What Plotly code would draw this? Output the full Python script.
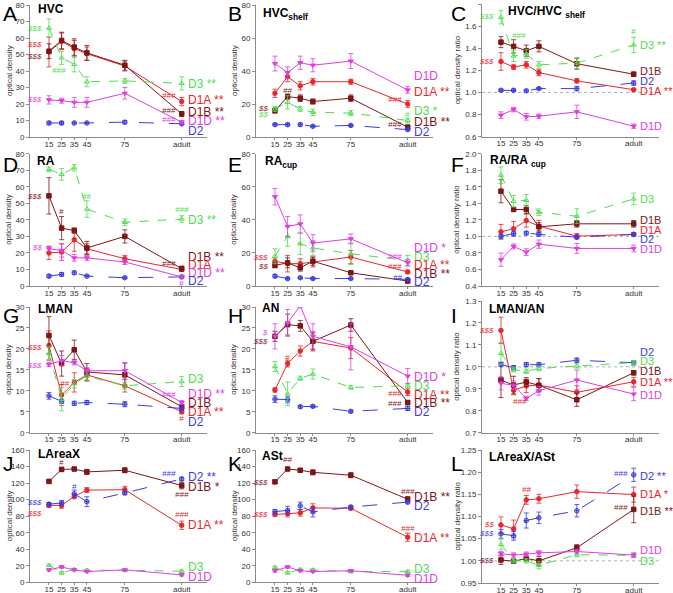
import plotly.graph_objects as go

W, H = 673, 593

x_ages = [15, 25, 35, 45, 75, 120]
x_ticklabels = ["15", "25", "35", "45", "75", "adult"]
series_names = ["D1A", "D1B", "D2", "D3", "D1D"]

# ---- Panel A: HVC
A_D1A = [51.5, 58, 53.5, 50.5, 43, 21.5]; A_D1A_e = [9, 5, 5, 4, 3, 2.5]
A_D1B = [52, 58.5, 54.5, 51, 43.5, 14]; A_D1B_e = [4.5, 5, 5, 4.5, 3, 1.5]
A_D2 = [8.5, 8.5, 8.5, 8.5, 9, 8]; A_D2_e = [1, 1, 0.5, 0.5, 1, 0.5]
A_D3 = [66, 48, 44, 33.5, 34, 32.5]; A_D3_e = [5.5, 4, 4.5, 3, 1.5, 4]
A_D1D = [22.5, 22, 21, 21, 26.5, 9]; A_D1D_e = [2.5, 1.5, 3, 3, 3.5, 1]
# ---- Panel B: HVC shelf
B_D1A = [26.5, 36.5, 31, 33.5, 33.5, 20]; B_D1A_e = [2.5, 3, 2.5, 2, 1.5, 2]
B_D1B = [16, 24.5, 23.5, 21.5, 23.5, 6]; B_D1B_e = [1.5, 1.5, 2, 1.5, 2, 1]
B_D2 = [7.5, 7.5, 7.5, 6.5, 7, 4.5]; B_D2_e = [0.8, 0.8, 0.8, 0.6, 0.6, 0.6]
B_D3 = [17, 21, 17, 15, 14.5, 10]; B_D3_e = [1.5, 4, 1.5, 2, 1.5, 1.5]
B_D1D = [44.5, 39, 45, 43.5, 46, 28.5]; B_D1D_e = [4.5, 3.5, 4, 4, 4.5, 2]
# ---- Panel C: HVC/HVC shelf
C_D1A = [1.28, 1.23, 1.25, 1.18, 1.105, 1.025]; C_D1A_e = [0.08, 0.02, 0.03, 0.03, 0.02, 0.01]
C_D1B = [1.455, 1.417, 1.378, 1.417, 1.26, 1.165]; C_D1B_e = [0.05, 0.06, 0.05, 0.05, 0.05, 0.02]
C_D2 = [1.02, 1.02, 1.015, 1.035, 1.035, 1.085]; C_D2_e = [0.01, 0.01, 0.01, 0.01, 0.02, 0.02]
C_D3 = [1.68, 1.33, 1.35, 1.25, 1.265, 1.43]; C_D3_e = [0.06, 0.05, 0.04, 0.03, 0.05, 0.07]
C_D1D = [0.795, 0.845, 0.78, 0.785, 0.825, 0.695]; C_D1D_e = [0.03, 0.02, 0.03, 0.02, 0.06, 0.02]
# ---- Panel D: RA
D_D1A = [20, 20.5, 28, 22.5, 16.5, 10]; D_D1A_e = [4, 5, 7, 3, 2, 1]
D_D1B = [54.5, 35, 33.5, 23, 30, 10.5]; D_D1B_e = [11, 7, 1.5, 4, 4, 1.5]
D_D2 = [6, 7, 8, 6, 5, 5.5]; D_D2_e = [1, 1, 1, 0.5, 0.5, 0.5]
D_D3 = [70.5, 67.5, 71.5, 46.5, 38.5, 40.5]; D_D3_e = [1.5, 3.5, 2, 5, 2, 2]
D_D1D = [22.5, 21.5, 17, 17, 14.5, 5.5]; D_D1D_e = [1.5, 4, 2, 1.5, 1.5, 0.5]
# ---- Panel E: RA cup
E_D1A = [15, 13.5, 13.5, 14.5, 17.5, 8.5]; E_D1A_e = [2, 5, 3, 3, 4, 1]
E_D1B = [12.5, 14, 11, 15, 8, 3]; E_D1B_e = [1.5, 3, 2, 2.5, 0.8, 0.5]
E_D2 = [6, 4.5, 5, 4.5, 4.5, 4]; E_D2_e = [1, 0.5, 0.5, 0.5, 0.5, 0.5]
E_D3 = [18, 30, 25.5, 23, 19.5, 15.5]; E_D3_e = [4.5, 6, 6.5, 4.5, 6.5, 3]
E_D1D = [54, 36, 37.5, 26, 28.5, 14]; E_D1D_e = [5, 6, 5.5, 5, 3, 2]
# ---- Panel F: RA/RA cup
F_D1A = [1.055, 1.091, 1.192, 1.124, 1.003, 1.023]; F_D1A_e = [0.09, 0.09, 0.08, 0.07, 0.03, 0.02]
F_D1B = [1.546, 1.325, 1.325, 1.116, 1.152, 1.152]; F_D1B_e = [0.14, 0.02, 0.05, 0.05, 0.04, 0.04]
F_D2 = [1.0, 1.035, 1.04, 1.025, 0.99, 1.025]; F_D2_e = [0.02, 0.02, 0.02, 0.02, 0.02, 0.02]
F_D3 = [1.74, 1.425, 1.437, 1.292, 1.244, 1.453]; F_D3_e = [0.1, 0.07, 0.07, 0.04, 0.09, 0.07]
F_D1D = [0.718, 0.878, 0.81, 0.906, 0.854, 0.854]; F_D1D_e = [0.08, 0.03, 0.04, 0.05, 0.06, 0.04]
# ---- Panel G: LMAN
G_D1A = [20.8, 9, 12, 13.8, 11.2, 5]; G_D1A_e = [3.5, 2.5, 2.3, 1.5, 1.5, 0.5]
G_D1B = [23.2, 16.5, 19.8, 14.5, 13.8, 6.2]; G_D1B_e = [4.5, 3, 2.3, 2, 2.8, 0.5]
G_D2 = [8.8, 7.5, 7, 7.2, 6.8, 5.8]; G_D2_e = [0.8, 0.5, 0.5, 0.5, 0.6, 0.5]
G_D3 = [19, 8, 11.7, 13.5, 11.2, 12.2]; G_D3_e = [1.5, 2.8, 1, 1, 0.8, 1.2]
G_D1D = [16.3, 17.2, 16.7, 14.8, 14.8, 7.2]; G_D1D_e = [0.5, 1.2, 0.5, 0.8, 2, 0.5]
# ---- Panel H: AN
H_D1A = [10.2, 16.5, 19.5, 21.8, 20.2, 9.7]; H_D1A_e = [0.5, 0.8, 1.2, 2.3, 2.5, 0.8]
H_D1B = [23, 25.8, 25.5, 21.8, 25.7, 7.2]; H_D1B_e = [1.2, 2.5, 1.3, 2, 1.5, 0.5]
H_D2 = [8, 7.9, 6.2, 6.3, 5.1, 5.8]; H_D2_e = [0.8, 0.8, 0.3, 0.3, 0.3, 0.5]
H_D3 = [15.8, 9.3, 13, 14, 10.8, 11.2]; H_D3_e = [1.2, 2.8, 0.5, 1.2, 0.4, 0.6]
H_D1D = [23, 26.2, 30.3, 23, 20.5, 13.5]; H_D1D_e = [3, 3.2, 0.5, 3, 5.5, 1.8]
# ---- Panel I: LMAN/AN
I_D1A = [1.166, 0.893, 0.913, 0.917, 0.884, 0.932]; I_D1A_e = [0.06, 0.02, 0.03, 0.03, 0.03, 0.02]
I_D1B = [0.94, 0.917, 0.931, 0.916, 0.85, 0.973]; I_D1B_e = [0.08, 0.04, 0.02, 0.03, 0.03, 0.01]
I_D2 = [1.011, 0.996, 1.01, 1.01, 1.03, 1.019]; I_D2_e = [0.01, 0.01, 0.01, 0.01, 0.01, 0.01]
I_D3 = [1.061, 0.987, 0.98, 0.992, 1.004, 1.019]; I_D3_e = [0.05, 0.01, 0.01, 0.01, 0.01, 0.01]
I_D1D = [0.925, 0.916, 0.856, 0.891, 0.94, 0.876]; I_D1D_e = [0.03, 0.02, 0.01, 0.02, 0.045, 0.03]
# ---- Panel J: LAreaX
J_D1A = [93, 93, 104, 111.5, 112, 69]; J_D1A_e = [2.5, 3.5, 3, 3, 4, 5]
J_D1B = [122, 136.5, 137, 133.5, 135.5, 117]; J_D1B_e = [2, 2.5, 1.5, 3, 3, 4]
J_D2 = [94.5, 96, 107, 97.5, 108, 125]; J_D2_e = [2, 3, 4.5, 6, 2, 2]
J_D3 = [20.5, 11.5, 15.5, 14.5, 14.5, 13.5]; J_D3_e = [1.5, 1.5, 1.5, 1.5, 1.5, 1.5]
J_D1D = [15, 18.5, 15, 13, 15, 9]; J_D1D_e = [1.5, 1.5, 1, 1, 1, 1.5]
# ---- Panel K: ASt
K_D1A = [82, 83, 84, 90, 89.5, 54.5]; K_D1A_e = [2, 4, 4, 5, 2, 5]
K_D1B = [121.5, 137, 135.5, 133, 129.5, 100.5]; K_D1B_e = [2, 1.5, 1.5, 3, 3, 3]
K_D2 = [85.5, 87, 92.5, 85, 91, 97]; K_D2_e = [2.5, 5, 4.5, 6, 2, 2]
K_D3 = [18, 11.5, 15.5, 15, 13, 13]; K_D3_e = [1.5, 1.5, 1.5, 1.5, 1.5, 1.5]
K_D1D = [14, 18.5, 14, 13, 14, 8.5]; K_D1D_e = [1.5, 1.5, 1, 1, 1, 1.5]
# ---- Panel L: LAreaX/ASt
L_D1A = [1.081, 1.072, 1.1375, 1.14, 1.156, 1.1495]; L_D1A_e = [0.018, 0.02, 0.01, 0.01, 0.015, 0.017]
L_D1B = [1.002, 0.999, 1.0055, 1.0, 1.0295, 1.116]; L_D1B_e = [0.01, 0.005, 0.005, 0.01, 0.007, 0.03]
L_D2 = [1.061, 1.0565, 1.091, 1.097, 1.113, 1.194]; L_D2_e = [0.01, 0.01, 0.017, 0.013, 0.014, 0.015]
L_D3 = [1.037, 1.0, 1.0, 0.99, 1.014, 1.012]; L_D3_e = [0.012, 0.005, 0.005, 0.008, 0.005, 0.005]
L_D1D = [1.016, 1.013, 1.015, 1.018, 1.021, 1.013]; L_D1D_e = [0.005, 0.005, 0.005, 0.005, 0.005, 0.005]

# right-side series labels: (text, series, y)
A_labels = [("D3 **", "D3", 32.4), ("D1A **", "D1A", 22.3), ("D1B **", "D1B", 15.2), ("D1D **", "D1D", 9.5), ("D2", "D2", 3.4)]
B_labels = [("D1D", "D1D", 36.8), ("D1A **", "D1A", 27), ("D3 *", "D3", 15.6), ("D1B **", "D1B", 9.1), ("D2", "D2", 2.8)]
C_labels = [("D3 **", "D3", 1.43), ("D1B", "D1B", 1.19), ("D2", "D2", 1.10), ("D1A **", "D1A", 1.016), ("D1D", "D1D", 0.696)]
D_labels = [("D3 **", "D3", 40.2), ("D1B **", "D1B", 17.4), ("D1A", "D1A", 12.7), ("D1D **", "D1D", 8.1), ("D2", "D2", 3)]
E_labels = [("D1D *", "D1D", 22.7), ("D3", "D3", 17.5), ("D1A **", "D1A", 12.5), ("D1B **", "D1B", 7.4), ("D2", "D2", 2.4)]
F_labels = [("D3", "D3", 1.453), ("D1B", "D1B", 1.204), ("D1A", "D1A", 1.075), ("D2", "D2", 0.963), ("D1D", "D1D", 0.85)]
G_labels = [("D3", "D3", 12.7), ("D1D **", "D1D", 9.3), ("D1B", "D1B", 7.2), ("D1A **", "D1A", 4.9), ("D2", "D2", 2.6)]
H_labels = [("D1D *", "D1D", 13.3), ("D3", "D3", 11.1), ("D1A **", "D1A", 9), ("D1B **", "D1B", 7), ("D2", "D2", 4.9)]
I_labels = [("D2", "D2", 1.068), ("D3", "D3", 1.027), ("D1B", "D1B", 0.981), ("D1A **", "D1A", 0.932), ("D1D", "D1D", 0.872)]
J_labels = [("D2 **", "D2", 127), ("D1B *", "D1B", 115.7), ("D1A **", "D1A", 69.4), ("D3", "D3", 18.1), ("D1D", "D1D", 6)]
K_labels = [("D1B **", "D1B", 103.6), ("D2", "D2", 92.7), ("D1A **", "D1A", 53.2), ("D3", "D3", 15.7), ("D1D", "D1D", 4)]
L_labels = [("D2 **", "D2", 1.191), ("D1A *", "D1A", 1.15), ("D1B **", "D1B", 1.1135), ("D1D", "D1D", 1.0235), ("D3", "D3", 0.9995)]

# significance marks: (text, series, x, y, anchor)  anchor: L = left of first point, R = left of adult, C = centred at x
A_sig = [("$$$", "D3", None, 66, "L"), ("$$$", "D1A", None, 56, "L"), ("$$$", "D1B", None, 49, "L"), ("###", "D3", 23, 40, "C"),
         ("$$$", "D1D", None, 22.5, "L"), ("###", "D1A", None, 25, "R"), ("###", "D1B", None, 16, "R"), ("###", "D1D", None, 10.5, "R")]
B_sig = [("$$", "D1B", None, 17.5, "L"), ("$$", "D3", None, 13.5, "L"), ("##", "D1B", 25, 28, "C"), ("###", "D1A", None, 23, "R"),
         ("#", "D3", 120, 13.5, "C"), ("###", "D1B", None, 7.5, "R")]
C_sig = [("$$$", "D3", None, 1.69, "L"), ("###", "D3", 29, 1.515, "C"), ("$$$", "D1A", None, 1.28, "L"), ("#", "D3", 120, 1.55, "C")]
D_sig = [("$$$", "D1B", None, 54, "L"), ("#", "D1B", 25, 45, "C"), ("##", "D3", 45, 54, "C"), ("###", "D3", 120, 46, "C"),
         ("$$", "D1D", None, 23, "L"), ("###", "D1B", None, 13.5, "R"), ("#", "D1D", 120, 1.6, "C")]
E_sig = [("$$$", "D1A", None, 17, "L"), ("$$", "D1B", None, 12, "L"), ("###", "D1D", None, 17.7, "R"), ("###", "D1A", None, 11.6, "R"),
         ("##", "D2", None, 5.4, "R")]
F_sig = []
G_sig = [("$$$", "D1A", None, 20.4, "L"), ("$$$", "D1D", None, 16.1, "L"), ("##", "D1A", 27, 11.7, "C"), ("###", "D1D", None, 9.0, "R"),
         ("#", "D1A", 120, 3.4, "C")]
H_sig = [("$", "D1D", None, 23.8, "L"), ("$$$", "D1B", None, 21.8, "L"), ("#", "D1A", 25, 18, "C"), ("###", "D1A", None, 9.3, "R"),
         ("###", "D1B", None, 7, "R")]
I_sig = [("$$$", "D1A", None, 1.165, "L"), ("###", "D1A", 30, 0.843, "C")]
J_sig = [("#", "D1B", 25, 145, "C"), ("$$$", "D2", None, 96.4, "L"), ("$$$", "D1A", None, 83.5, "L"), ("#", "D2", 35, 115.7, "C"),
         ("###", "D2", None, 131, "R"), ("###", "D1B", 120, 106, "C"), ("###", "D1A", 120, 81.5, "C")]
K_sig = [("$$$", "D1B", None, 121, "L"), ("##", "D1B", 25, 149, "C"), ("$$$", "D1A", None, 81.5, "L"), ("###", "D1B", 120, 109.7, "C"),
         ("###", "D1A", 120, 64.5, "C")]
L_sig = [("###", "D2", None, 1.196, "R"), ("##", "D1A", 35, 1.162, "C"), ("$$", "D1A", None, 1.081, "L"), ("$$$", "D2", None, 1.061, "L"),
         ("###", "D1B", None, 1.121, "R"), ("$$$", "D1B", None, 1.0, "L")]

colors = {"D1A": "#e8262b", "D1B": "#7d1717", "D2": "#3b3be0", "D3": "#4fdc4f", "D1D": "#e03ee0"}
markers = {"D1A": "circle", "D1B": "square", "D2": "circle-cross-open", "D3": "triangle-up-open", "D1D": "triangle-down"}
dashes = {"D1A": "solid", "D1B": "solid", "D2": "longdash", "D3": "dash", "D1D": "solid"}

g = globals()
letters = list("ABCDEFGHIJKL")
titles = ["<b>HVC</b>", "<b>HVC<sub>shelf</sub></b>", "<b>HVC/HVC <sub>shelf</sub></b>",
          "<b>RA</b>", "<b>RA<sub>cup</sub></b>", "<b>RA/RA <sub>cup</sub></b>",
          "<b>LMAN</b>", "<b>AN</b>", "<b>LMAN/AN</b>",
          "<b>LAreaX</b>", "<b>ASt</b>", "<b>LAreaX/ASt</b>"]
yranges = [(0, 80, 10), (0, 80, 20), (0.6, 1.8, 0.2),
           (0, 80, 10), (0, 80, 20), (0.4, 2.0, 0.2),
           (0, 30, 5), (0, 30, 5), (0.7, 1.3, 0.1),
           (0, 160, 20), (0, 160, 20), (0.95, 1.25, 0.05)]
ratio = [False, False, True, False, False, True, False, False, True, False, False, True]

col_x0 = [30, 256, 482]
col_off = [0, 225, 448]
row_off = [0, 148, 296, 444]
# (top, bottom) px of each plot area
ybox = [(5, 137), (5, 137), (4, 136.7),
        (153.7, 286), (153.7, 286), (153.7, 286),
        (307, 432.7), (307, 432.7), (301, 432.7),
        (450, 582.3), (450, 582.3), (450, 583)]
letter_y = [0, 0, 0, 151, 151, 151, 302, 302, 302, 450, 450, 450]
title_x = [36, 36, 58, 35, 38, 40, 36, 35, 39, 36, 35, 39]
title_y = [9, 14, 12, 161, 162, 161, 309, 308, 309, 454, 456, 457]
label_size = [12, 12, 11, 12, 12, 11, 12, 12, 11, 12, 12, 11]
PW = 177

fig = go.Figure()
annotations = []
shapes = []
layout = {}

for i, L in enumerate(letters):
    r, c = divmod(i, 3)
    n = i + 1
    xr = "x" if n == 1 else f"x{n}"
    yr = "y" if n == 1 else f"y{n}"
    x0 = col_x0[c]
    top, bot = ybox[i]
    y0, y1, dt = yranges[i]
    nt = int(round((y1 - y0) / dt))
    tv = [round(y0 + k * dt, 4) for k in range(nt + 1)]
    if ratio[i]:
        fmt = "%.2f" if dt < 0.1 else "%.1f"
        tt = [fmt % v for v in tv]
    else:
        tt = [str(int(v)) for v in tv]
    axstyle = dict(showline=True, linecolor="#8a8a8a", linewidth=1, ticks="outside",
                   tickcolor="#8a8a8a", tickfont=dict(size=8, color="#333", family="Liberation Sans"),
                   showgrid=False, zeroline=False, fixedrange=True, automargin=False)
    layout[f"xaxis{n}"] = dict(domain=[x0 / W, (x0 + PW) / W], range=[0, 140], anchor=yr, ticklen=2,
                               ticklabelstandoff=-3,
                               tickvals=x_ages, ticktext=x_ticklabels, **axstyle)
    layout[f"yaxis{n}"] = dict(domain=[1 - bot / H, 1 - top / H], range=[y0, y1], anchor=xr, ticklen=3,
                               tickvals=tv, ticktext=tt, **axstyle)
    for s in series_names:
        vals = g[f"{L}_{s}"]
        errs = g[f"{L}_{s}_e"]
        col = colors[s]
        fig.add_trace(go.Scatter(
            x=x_ages, y=vals, xaxis=xr, yaxis=yr, mode="lines+markers", showlegend=False,
            line=dict(color=col, width=1, dash=dashes[s]),
            marker=dict(symbol=markers[s], size=4.5, color=col, line=dict(color=col, width=1)),
            error_y=dict(type="data", array=errs, color=col, thickness=0.8, width=2.5),
            cliponaxis=False,
        ))
    if ratio[i]:
        shapes.append(dict(type="line", xref=f"{xr} domain", yref=yr, x0=0, x1=1, y0=1.0, y1=1.0,
                           line=dict(color="#b0b0b0", width=1, dash="dot"), layer="below"))
    # series labels
    for txt, s, yv in g[f"{L}_labels"]:
        annotations.append(dict(x=123, y=yv, xref=xr, yref=yr, text=txt, showarrow=False, xanchor="left",
                                yanchor="middle", font=dict(size=label_size[i], color=colors[s], family="Liberation Sans")))
    # significance marks
    for txt, s, xv, yv, anc in g[f"{L}_sig"]:
        if anc == "L":
            xv, xa = 11, "right"
        elif anc == "R":
            xv, xa = 117, "right"
        else:
            xa = "center"
        annotations.append(dict(x=xv, y=yv, xref=xr, yref=yr, text=f"<i>{txt}</i>", showarrow=False, xanchor=xa,
                                yanchor="middle", font=dict(size=8, color=colors[s], family="Liberation Sans")))
    # panel letter
    annotations.append(dict(x=(col_off[c] + 1) / W, y=1 - letter_y[i] / H, xref="paper", yref="paper",
                            text=L, showarrow=False, xanchor="left", yanchor="top",
                            font=dict(size=21, color="black", family="Liberation Sans")))
    # panel title
    annotations.append(dict(x=(col_off[c] + title_x[i]) / W, y=1 - title_y[i] / H, xref="paper", yref="paper",
                            text=titles[i], showarrow=False, xanchor="left", yanchor="middle",
                            font=dict(size=12, color="black", family="Liberation Sans")))
    # y-axis title
    annotations.append(dict(x=(col_off[c] + 9) / W, y=1 - (top + bot) / 2 / H, xref="paper", yref="paper",
                            text="optical density ratio" if ratio[i] else "optical density", textangle=-90,
                            showarrow=False, xanchor="center", yanchor="middle",
                            font=dict(size=8, color="#333", family="Liberation Sans")))

fig.update_layout(width=W, height=H, margin=dict(l=0, r=0, t=0, b=0), plot_bgcolor="white",
                  paper_bgcolor="white", annotations=annotations, shapes=shapes, **layout)
fig.write_html("out.html", config={"displayModeBar": False},
               post_script="document.body.style.margin='0px';document.body.style.overflow='hidden';")
